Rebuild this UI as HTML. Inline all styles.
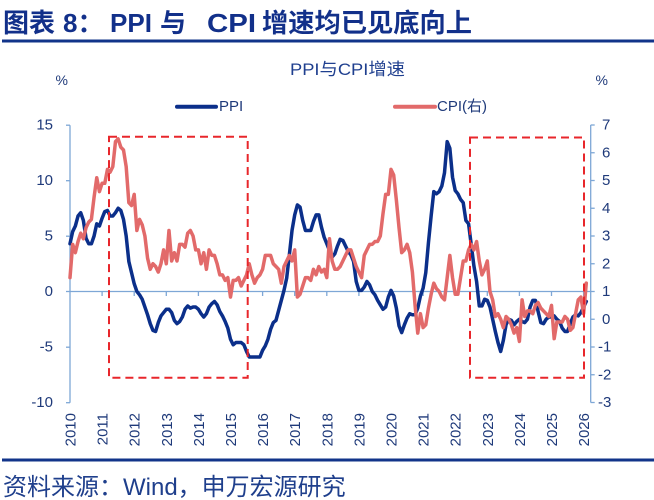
<!DOCTYPE html>
<html>
<head>
<meta charset="utf-8">
<style>
  html,body{margin:0;padding:0;background:#fff;}
  body{width:654px;height:500px;overflow:hidden;}
  svg{display:block;}
  text{font-family:"Liberation Sans","Noto Sans CJK SC",sans-serif;}
</style>
</head>
<body>
<svg width="654" height="500" viewBox="0 0 654 500" xmlns="http://www.w3.org/2000/svg">
  <rect x="0" y="0" width="654" height="500" fill="#ffffff"/>

  <!-- Header title -->
  <g fill="#12308a" font-weight="bold" font-size="26">
    <text x="3" y="32">图表</text>
    <text x="63" y="32">8：</text>
    <text x="110" y="32" textLength="42" lengthAdjust="spacingAndGlyphs">PPI</text>
    <text x="160" y="32">与</text>
    <text x="207" y="32" textLength="49" lengthAdjust="spacingAndGlyphs">CPI</text>
    <text x="262" y="32" textLength="210" lengthAdjust="spacingAndGlyphs">增速均已见底向上</text>
  </g>
  <rect x="2" y="39.5" width="652" height="3" fill="#12348a"/>

  <!-- Chart title -->
  <text x="290" y="75" font-size="17" fill="#1f3f8f" textLength="115" lengthAdjust="spacingAndGlyphs">PPI与CPI增速</text>

  <!-- % units -->
  <text x="61.7" y="80" font-size="14" fill="#1f3a7a" text-anchor="middle" dominant-baseline="central">%</text>
  <text x="601.7" y="80" font-size="14" fill="#1f3a7a" text-anchor="middle" dominant-baseline="central">%</text>

  <!-- Legend -->
  <line x1="177" y1="106.7" x2="216" y2="106.7" stroke="#0b2f8a" stroke-width="4" stroke-linecap="round"/>
  <text x="219" y="106.5" font-size="15" fill="#1f3a7a" dominant-baseline="central">PPI</text>
  <line x1="395" y1="106.7" x2="435" y2="106.7" stroke="#e26a6a" stroke-width="4" stroke-linecap="round"/>
  <text x="437" y="106.5" font-size="15" fill="#1f3a7a" dominant-baseline="central">CPI(右)</text>

  <!-- Axes -->
  <g stroke="#7ea7d6" stroke-width="1.3" fill="none">
    <line x1="70" y1="125.2" x2="70" y2="402.7"/>
    <line x1="66" y1="125.2" x2="70" y2="125.2"/>
    <line x1="66" y1="180.7" x2="70" y2="180.7"/>
    <line x1="66" y1="236.2" x2="70" y2="236.2"/>
    <line x1="66" y1="291.5" x2="70" y2="291.5"/>
    <line x1="66" y1="347.2" x2="70" y2="347.2"/>
    <line x1="66" y1="402.7" x2="70" y2="402.7"/>

    <line x1="590.7" y1="125" x2="590.7" y2="402.5"/>
    <line x1="590.7" y1="125" x2="594.7" y2="125"/>
    <line x1="590.7" y1="152.75" x2="594.7" y2="152.75"/>
    <line x1="590.7" y1="180.5" x2="594.7" y2="180.5"/>
    <line x1="590.7" y1="208.25" x2="594.7" y2="208.25"/>
    <line x1="590.7" y1="236" x2="594.7" y2="236"/>
    <line x1="590.7" y1="263.75" x2="594.7" y2="263.75"/>
    <line x1="590.7" y1="291.5" x2="594.7" y2="291.5"/>
    <line x1="590.7" y1="319.25" x2="594.7" y2="319.25"/>
    <line x1="590.7" y1="347" x2="594.7" y2="347"/>
    <line x1="590.7" y1="374.75" x2="594.7" y2="374.75"/>
    <line x1="590.7" y1="402.5" x2="594.7" y2="402.5"/>

    <line x1="70" y1="291.5" x2="590.7" y2="291.5"/>
    <line x1="102.1" y1="291.5" x2="102.1" y2="296"/>
    <line x1="134.2" y1="291.5" x2="134.2" y2="296"/>
    <line x1="166.3" y1="291.5" x2="166.3" y2="296"/>
    <line x1="198.4" y1="291.5" x2="198.4" y2="296"/>
    <line x1="230.5" y1="291.5" x2="230.5" y2="296"/>
    <line x1="262.6" y1="291.5" x2="262.6" y2="296"/>
    <line x1="294.7" y1="291.5" x2="294.7" y2="296"/>
    <line x1="326.8" y1="291.5" x2="326.8" y2="296"/>
    <line x1="358.9" y1="291.5" x2="358.9" y2="296"/>
    <line x1="391.0" y1="291.5" x2="391.0" y2="296"/>
    <line x1="423.1" y1="291.5" x2="423.1" y2="296"/>
    <line x1="455.2" y1="291.5" x2="455.2" y2="296"/>
    <line x1="487.3" y1="291.5" x2="487.3" y2="296"/>
    <line x1="519.4" y1="291.5" x2="519.4" y2="296"/>
    <line x1="551.5" y1="291.5" x2="551.5" y2="296"/>
    <line x1="583.6" y1="291.5" x2="583.6" y2="296"/>
  </g>

  <!-- Left tick labels -->
  <g font-size="15" fill="#1f3a7a" text-anchor="end" dominant-baseline="central">
    <text x="53" y="125.2">15</text>
    <text x="53" y="180.7">10</text>
    <text x="53" y="236.2">5</text>
    <text x="53" y="291.5">0</text>
    <text x="53" y="347.2">-5</text>
    <text x="53" y="402.7">-10</text>
  </g>
  <!-- Right tick labels -->
  <g font-size="15" fill="#1f3a7a" text-anchor="start" dominant-baseline="central">
    <text x="602" y="125">7</text>
    <text x="602" y="152.75">6</text>
    <text x="602" y="180.5">5</text>
    <text x="602" y="208.25">4</text>
    <text x="602" y="236">3</text>
    <text x="602" y="263.75">2</text>
    <text x="602" y="291.5">1</text>
    <text x="602" y="319.25">0</text>
    <text x="598" y="347">-1</text>
    <text x="598" y="374.75">-2</text>
    <text x="598" y="402.5">-3</text>
  </g>

  <!-- Year labels -->
  <g font-size="15" fill="#1f3a7a" text-anchor="end" dominant-baseline="central">
    <text transform="translate(71,413) rotate(-90)">2010</text>
    <text transform="translate(103.1,413) rotate(-90)">2011</text>
    <text transform="translate(135.2,413) rotate(-90)">2012</text>
    <text transform="translate(167.3,413) rotate(-90)">2013</text>
    <text transform="translate(199.4,413) rotate(-90)">2014</text>
    <text transform="translate(231.5,413) rotate(-90)">2015</text>
    <text transform="translate(263.6,413) rotate(-90)">2016</text>
    <text transform="translate(295.7,413) rotate(-90)">2017</text>
    <text transform="translate(327.8,413) rotate(-90)">2018</text>
    <text transform="translate(359.9,413) rotate(-90)">2019</text>
    <text transform="translate(392.0,413) rotate(-90)">2020</text>
    <text transform="translate(424.1,413) rotate(-90)">2021</text>
    <text transform="translate(456.2,413) rotate(-90)">2022</text>
    <text transform="translate(488.3,413) rotate(-90)">2023</text>
    <text transform="translate(520.4,413) rotate(-90)">2024</text>
    <text transform="translate(552.5,413) rotate(-90)">2025</text>
    <text transform="translate(584.6,413) rotate(-90)">2026</text>
  </g>

  <!-- PPI series (left axis) -->
  <polyline transform="translate(70,291.5) scale(2.675,-11.1)" vector-effect="non-scaling-stroke"
    fill="none" stroke="#0b2f8a" stroke-width="3.5" stroke-linejoin="round" stroke-linecap="round"
    points="0,4.3 1,5.4 2,5.9 3,6.8 4,7.1 5,6.4 6,4.8 7,4.3 8,4.3 9,5.0 10,6.1 11,5.9
12,6.6 13,7.2 14,7.3 15,6.8 16,6.8 17,7.1 18,7.5 19,7.3 20,6.5 21,5.0 22,2.7 23,1.7
24,0.7 25,0.0 26,-0.3 27,-0.7 28,-1.4 29,-2.1 30,-2.9 31,-3.5 32,-3.6 33,-2.8 34,-2.2 35,-1.9
36,-1.6 37,-1.6 38,-1.9 39,-2.6 40,-2.9 41,-2.7 42,-2.3 43,-1.6 44,-1.3 45,-1.5 46,-1.4 47,-1.4
48,-1.6 49,-2.0 50,-2.3 51,-2.0 52,-1.4 53,-1.1 54,-0.9 55,-1.2 56,-1.8 57,-2.2 58,-2.7 59,-3.3
60,-4.3 61,-4.8 62,-4.6 63,-4.6 64,-4.6 65,-4.8 66,-5.4 67,-5.9 68,-5.9 69,-5.9 70,-5.9 71,-5.9
72,-5.3 73,-4.9 74,-4.3 75,-3.4 76,-2.8 77,-2.6 78,-1.7 79,-0.8 80,0.1 81,1.2 82,3.3 83,5.5
84,6.9 85,7.8 86,7.6 87,6.4 88,5.5 89,5.5 90,5.5 91,6.3 92,6.9 93,6.9 94,5.8 95,4.9
96,4.3 97,3.7 98,3.1 99,3.4 100,4.1 101,4.7 102,4.6 103,4.1 104,3.6 105,3.3 106,2.7 107,0.9
108,0.1 109,0.1 110,0.4 111,0.9 112,0.6 113,0.0 114,-0.3 115,-0.8 116,-1.2 117,-1.6 118,-1.4 119,-0.5
120,0.1 121,-0.4 122,-1.5 123,-3.1 124,-3.7 125,-3.0 126,-2.4 127,-2.0 128,-2.1 129,-2.1 130,-1.5 131,-0.4
132,0.3 133,1.7 134,4.4 135,6.8 136,9.0 137,8.8 138,9.0 139,9.5 140,10.7 141,13.5 142,12.9 143,10.3
144,9.1 145,8.8 146,8.3 147,8.0 148,6.4 149,6.1 150,4.2 151,2.3 152,0.9 153,-1.3 154,-1.3 155,-0.7
156,-0.8 157,-1.4 158,-2.5 159,-3.6 160,-4.6 161,-5.4 162,-4.4 163,-3.0 164,-2.5 165,-2.6 166,-3.0 167,-2.7
168,-2.5 169,-2.7 170,-2.8 171,-2.5 172,-1.4 173,-0.8 174,-0.8 175,-1.8 176,-2.8 177,-2.9 178,-2.5 179,-2.3
180,-2.3 181,-2.2 182,-2.5 183,-2.7 184,-3.3 185,-3.6 186,-3.6 187,-2.9 188,-2.3 189,-2.1 190,-2.2 191,-1.9
192,-1.4 193,-0.9"/>

  <!-- CPI series (right axis) -->
  <polyline transform="translate(70,319.25) scale(2.675,-27.75)" vector-effect="non-scaling-stroke"
    fill="none" stroke="#e26a6a" stroke-width="3.5" stroke-linejoin="round" stroke-linecap="round"
    points="0,1.5 1,2.7 2,2.4 3,2.8 4,3.1 5,2.9 6,3.3 7,3.5 8,3.6 9,4.4 10,5.1 11,4.6
12,4.9 13,4.9 14,5.4 15,5.3 16,5.5 17,6.4 18,6.5 19,6.2 20,6.1 21,5.5 22,4.2 23,4.1
24,4.5 25,3.2 26,3.6 27,3.4 28,3.0 29,2.2 30,1.8 31,2.0 32,1.9 33,1.7 34,2.0 35,2.5
36,2.0 37,3.2 38,2.1 39,2.4 40,2.1 41,2.7 42,2.7 43,2.6 44,3.1 45,3.2 46,3.0 47,2.5
48,2.5 49,2.0 50,2.4 51,1.8 52,2.5 53,2.3 54,2.3 55,2.0 56,1.6 57,1.6 58,1.4 59,1.5
60,0.8 61,1.4 62,1.4 63,1.5 64,1.2 65,1.4 66,1.6 67,2.0 68,1.6 69,1.3 70,1.5 71,1.6
72,1.8 73,2.3 74,2.3 75,2.3 76,2.0 77,1.9 78,1.8 79,1.3 80,1.9 81,2.1 82,2.3 83,2.1
84,2.5 85,0.8 86,0.9 87,1.2 88,1.5 89,1.5 90,1.4 91,1.8 92,1.6 93,1.9 94,1.7 95,1.8
96,1.5 97,2.9 98,2.1 99,1.8 100,1.8 101,1.9 102,2.1 103,2.3 104,2.5 105,2.5 106,2.2 107,1.9
108,1.7 109,1.5 110,2.3 111,2.5 112,2.7 113,2.7 114,2.8 115,2.8 116,3.0 117,3.8 118,4.5 119,4.5
120,5.4 121,5.2 122,4.3 123,3.3 124,2.4 125,2.5 126,2.7 127,2.4 128,1.7 129,0.5 130,-0.5 131,0.2
132,-0.3 133,-0.2 134,0.4 135,0.9 136,1.3 137,1.1 138,1.0 139,0.8 140,0.7 141,1.5 142,2.3 143,1.5
144,0.9 145,0.9 146,1.5 147,2.1 148,2.1 149,2.5 150,2.7 151,2.5 152,2.8 153,2.1 154,1.6 155,1.8
156,2.1 157,1.0 158,0.7 159,0.1 160,0.2 161,0.0 162,-0.3 163,0.1 164,0.0 165,-0.2 166,-0.5 167,-0.3
168,-0.8 169,0.7 170,0.1 171,0.3 172,0.3 173,0.2 174,0.5 175,0.6 176,0.4 177,0.3 178,0.2 179,0.1
180,0.5 181,-0.7 182,-0.1 183,-0.1 184,-0.1 185,0.1 186,0.0 187,-0.4 188,-0.3 189,0.2 190,0.7 191,0.8
192,0.2 193,1.3"/>

  <!-- Dashed highlight boxes -->
  <g fill="none" stroke="#e8262b" stroke-width="2" stroke-dasharray="8 5">
    <rect x="109" y="136.7" width="138.7" height="241"/>
    <rect x="470" y="137.5" width="114" height="240.2"/>
  </g>

  <!-- Bottom rule and source -->
  <rect x="2" y="458.5" width="652" height="3" fill="#12348a"/>
  <text x="3" y="495" font-size="24" fill="#1f3f8c">资料来源：Wind，申万宏源研究</text>
</svg>
</body>
</html>
